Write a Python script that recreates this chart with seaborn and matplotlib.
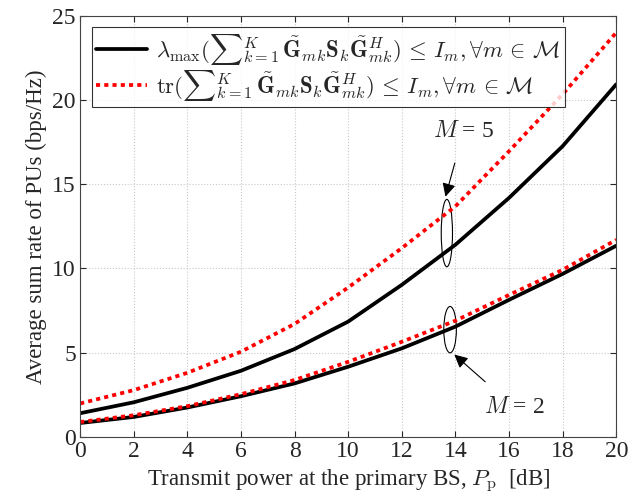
import numpy as np
import pandas as pd
import seaborn as sns
import matplotlib.pyplot as plt
from matplotlib.patches import Ellipse

# ---------------------------- data ---------------------------- #
power_db = [0, 2, 4, 6, 8, 10, 12, 14, 16, 18, 20]

lmax_m5 = [1.41, 2.06, 2.92, 3.93, 5.22, 6.85, 9.03, 11.41, 14.19, 17.26, 20.93]
trace_m5 = [1.99, 2.78, 3.81, 5.06, 6.71, 8.87, 11.21, 13.69, 16.96, 20.34, 24.0]
lmax_m2 = [0.83, 1.19, 1.75, 2.42, 3.18, 4.17, 5.26, 6.55, 8.14, 9.68, 11.35]
trace_m2 = [0.89, 1.29, 1.83, 2.54, 3.38, 4.46, 5.65, 6.90, 8.43, 9.92, 11.70]

lab_lmax = (r'$\lambda_{\max}({\sum}_{k=1}^{K}\,\tilde{\mathbf{G}}_{mk}\mathbf{S}_k'
            r'\tilde{\mathbf{G}}_{mk}^{H})\,\leq\,I_m, \forall m\,\in\,\mathcal{M}$')
lab_trace = (r'$\mathrm{tr}({\sum}_{k=1}^{K}\,\tilde{\mathbf{G}}_{mk}\mathbf{S}_k'
             r'\tilde{\mathbf{G}}_{mk}^{H})\,\leq\,I_m, \forall m\,\in\,\mathcal{M}$')

rows = []
for m, lab, vals in [(5, lab_lmax, lmax_m5), (5, lab_trace, trace_m5),
                     (2, lab_lmax, lmax_m2), (2, lab_trace, trace_m2)]:
    for p, v in zip(power_db, vals):
        rows.append({'P': p, 'rate': v, 'M': m, 'constraint': lab})
df = pd.DataFrame(rows)

# ---------------------------------- plotting ---------------------------------- #
sns.set_style('ticks')
plt.rcParams['font.family'] = ['Liberation Serif', 'DejaVu Serif']
plt.rcParams['mathtext.fontset'] = 'cm'

fig = plt.figure(figsize=(6.36, 4.98), dpi=100)
ax = fig.add_axes([0.126, 0.1225, 0.843, 0.846])

sns.lineplot(data=df, x='P', y='rate', hue='constraint', style='constraint',
             units='M', estimator=None, ax=ax, linewidth=2.7,
             palette={lab_lmax: 'black', lab_trace: 'red'},
             dashes={lab_lmax: '', lab_trace: (1.1, 1.1)},
             hue_order=[lab_lmax, lab_trace], style_order=[lab_lmax, lab_trace])

ax.set_xlim(0, 20)
ax.set_ylim(0, 25)
ax.set_xticks(range(0, 21, 2))
ax.set_yticks(range(0, 26, 5))
ax.tick_params(direction='in', top=True, right=True, labelsize=17, length=4, pad=3)
ax.grid(True, linestyle=':', color='#c8c8c8', linewidth=0.8)
for s in ax.spines.values():
    s.set_color('#444444')
    s.set_linewidth(0.8)

ax.set_xlabel(r'Transmit power at the primary BS, $P_{\mathrm{p}}$  [dB]', fontsize=16.5)
ax.set_ylabel('Average sum rate of PUs (bps/Hz)', fontsize=16.5)

leg = ax.legend(loc='upper left', fontsize=16.5, frameon=True, fancybox=False,
                handlelength=2.2, borderpad=0.2, labelspacing=0.05,
                handletextpad=0.4, borderaxespad=0.5)
leg.get_frame().set_edgecolor('black')
leg.get_frame().set_linewidth(0.8)

# ellipses and arrows marking the two groups
ax.add_patch(Ellipse((13.68, 12.1), 0.42, 4.0, fill=False, color='black', lw=0.8))
ax.add_patch(Ellipse((13.8, 6.37), 0.47, 2.75, fill=False, color='black', lw=0.8))
ax.annotate('$M$ = 5', xy=(13.6, 14.1), xytext=(14.3, 18.1), fontsize=17,
            ha='center', va='center',
            arrowprops=dict(arrowstyle='-|>', color='black', lw=0.8,
                            mutation_scale=20, shrinkA=13))
ax.annotate('$M$ = 2', xy=(13.88, 5.0), xytext=(16.2, 1.75), fontsize=17,
            ha='center', va='center',
            arrowprops=dict(arrowstyle='-|>', color='black', lw=0.8,
                            mutation_scale=20, shrinkA=13))

plt.savefig('out.png', dpi=100)
